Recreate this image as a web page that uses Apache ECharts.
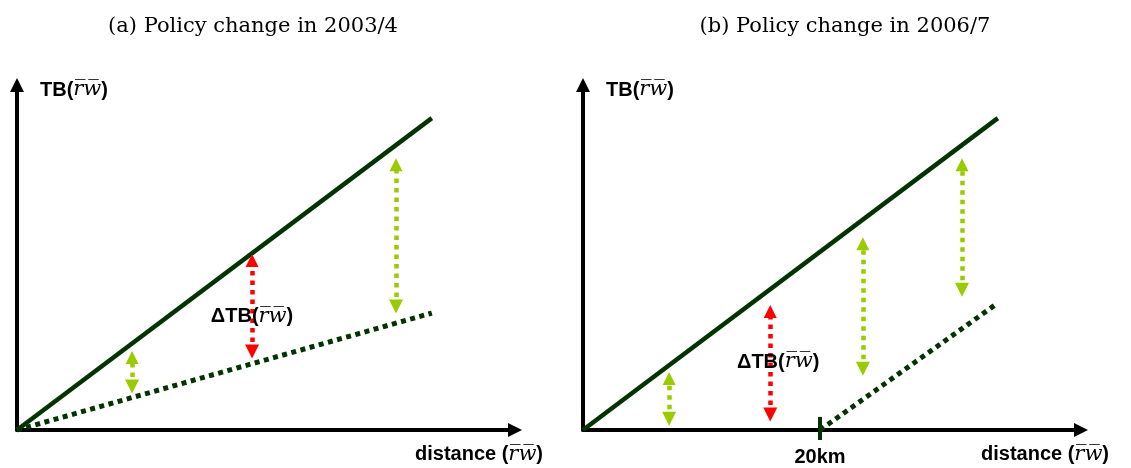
<!DOCTYPE html>
<html>
<head>
<meta charset="utf-8">
<script src="https://cdn.jsdelivr.net/npm/echarts@6/dist/echarts.min.js"></script>
<style>html,body{margin:0;padding:0;background:#fff;}#c{width:1131px;height:468px;}</style>
</head>
<body>
<div id="c"></div>
<script>
// ---- data (schematic units: x 0..100, y 0..100) ----
const panelTitles = ['(a) Policy change in 2003/4', '(b) Policy change in 2006/7'];
const solidLineA = [[0, 0], [83.3, 90.4]];
const dottedLineA = [[0, 0], [83.3, 33.9]];
const greenArrowsA = [[23.1, 10.7, 22.9], [76.1, 33.9, 78.8]];   // [x, low tip, high tip]
const redArrowsA = [[47.2, 20.9, 51.0]];
const deltaLabelA = [47.2, 33.0];

const solidLineB = [[0, 0], [83.3, 90.4]];
const dottedLineB = [[47.6, 0], [83.3, 36.8]];
const greenArrowsB = [[17.3, 1.4, 16.8], [56.2, 15.9, 55.9], [76.1, 38.8, 78.8]];
const redArrowsB = [[37.6, 2.6, 36.2]];
const deltaLabelB = [39.2, 19.7];
const cutoffB = 47.6;
const cutoffTick = [-2.9, 3.8];
const cutoffLabel = '20km';

const yAxisName = 'TB';
const xAxisName = 'distance';
const deltaName = 'ΔTB';

// ---- styles ----
const DARK = '#033303';
const LIME = '#99cc00';
const RED = '#ff0000';
const rwText = 'r\u0305w\u0305';
const richStyles = {
  a: { fontFamily: 'Liberation Sans', fontWeight: 'bold', fontSize: 20, color: '#000', opacity: 1 },
  b: { fontFamily: 'DejaVu Serif', fontStyle: 'italic', fontSize: 21, color: '#000', opacity: 1 }
};
const HEAD_H = 13;          // arrowhead height in px
const Y_PX = 345 / 100;     // px per y unit

function arrowSeries(list, color, gi) {
  const off = HEAD_H / 2 / Y_PX;   // symbols are centred on the ends -> pull ends in so tips land on the values
  return {
    type: 'lines', coordinateSystem: 'cartesian2d', xAxisIndex: gi, yAxisIndex: gi,
    polyline: false, clip: false, silent: true,
    symbol: ['triangle', 'triangle'], symbolSize: [14, HEAD_H],
    lineStyle: { color: color, width: 4.5, type: [4.5, 5], opacity: 1 },
    data: list.map(d => ({ coords: [[d[0], d[1] + off], [d[0], d[2] - off]] })),
    z: 5
  };
}
function lineSeries(data, dotted, gi) {
  return {
    type: 'line', xAxisIndex: gi, yAxisIndex: gi, data: data, symbol: 'none', silent: true,
    lineStyle: { color: DARK, width: dotted ? 5 : 4.5, type: dotted ? [5, 4.5] : 'solid' },
    z: 3
  };
}
function labelSeries(pos, gi) {
  return {
    type: 'scatter', xAxisIndex: gi, yAxisIndex: gi, symbolSize: 0, silent: true,
    itemStyle: { opacity: 1 },
    data: [pos],
    label: { show: true, position: 'inside', color: '#000', opacity: 1, textBorderWidth: 0,
      formatter: '{a|' + deltaName + '(}{b|' + rwText + '}{a|)}', rich: richStyles },
    z: 10
  };
}

const grids = [
  { left: 17, top: 85, width: 498, height: 345 },
  { left: 583, top: 85, width: 498, height: 345 }
];

function xAxisOf(gi) {
  const ax = {
    type: 'value', gridIndex: gi, min: 0, max: 100,
    axisLine: { show: true, onZero: false, symbol: ['none', 'triangle'], symbolSize: [14, 14], lineStyle: { color: '#000', width: 4 } },
    axisTick: { show: false }, splitLine: { show: false },
    axisLabel: { show: false },
    name: '{a|' + xAxisName + ' (}{b|' + rwText + '}{a|)}',
    nameLocation: 'end', nameGap: -36,
    nameTextStyle: { align: 'center', verticalAlign: 'top', padding: [14, 0, 0, 0], rich: richStyles }
  };
  if (gi === 1) {
    ax.axisLabel = {
      show: true, customValues: [cutoffB], formatter: () => cutoffLabel, margin: 17,
      fontFamily: 'Liberation Sans', fontWeight: 'bold', fontSize: 20, color: '#000'
    };
  }
  return ax;
}
function yAxisOf(gi) {
  return {
    type: 'value', gridIndex: gi, min: 0, max: 100,
    axisLine: { show: true, onZero: false, symbol: ['none', 'triangle'], symbolSize: [14, 14], lineStyle: { color: '#000', width: 4 } },
    axisTick: { show: false }, splitLine: { show: false }, axisLabel: { show: false },
    name: '{a|' + yAxisName + '(}{b|' + rwText + '}{a|)}',
    nameLocation: 'end', nameGap: -5,
    nameTextStyle: { align: 'left', verticalAlign: 'middle', padding: [0, 0, 0, 23], rich: richStyles }
  };
}

const option = {
  animation: false,
  backgroundColor: '#fff',
  title: panelTitles.map((t, i) => ({
    text: t, left: i === 0 ? 248 : 840, top: 11, textAlign: 'center',
    textStyle: { fontFamily: 'DejaVu Serif', fontWeight: 'normal', fontSize: 21, color: '#000' }
  })),
  grid: grids,
  xAxis: [xAxisOf(0), xAxisOf(1)],
  yAxis: [yAxisOf(0), yAxisOf(1)],
  series: [
    lineSeries(solidLineA, false, 0),
    lineSeries(dottedLineA, true, 0),
    arrowSeries(greenArrowsA, LIME, 0),
    arrowSeries(redArrowsA, RED, 0),
    labelSeries(deltaLabelA, 0),
    lineSeries(solidLineB, false, 1),
    lineSeries(dottedLineB, true, 1),
    arrowSeries(greenArrowsB, LIME, 1),
    arrowSeries(redArrowsB, RED, 1),
    labelSeries(deltaLabelB, 1),
    {
      type: 'lines', coordinateSystem: 'cartesian2d', xAxisIndex: 1, yAxisIndex: 1, clip: false, silent: true,
      symbol: ['none', 'none'],
      lineStyle: { color: DARK, width: 4, opacity: 1 },
      data: [{ coords: [[cutoffB, cutoffTick[0]], [cutoffB, cutoffTick[1]]] }],
      z: 6
    }
  ]
};
const chart = echarts.init(document.getElementById('c'), null, { renderer: 'canvas' });
chart.setOption(option);
</script>
</body>
</html>
